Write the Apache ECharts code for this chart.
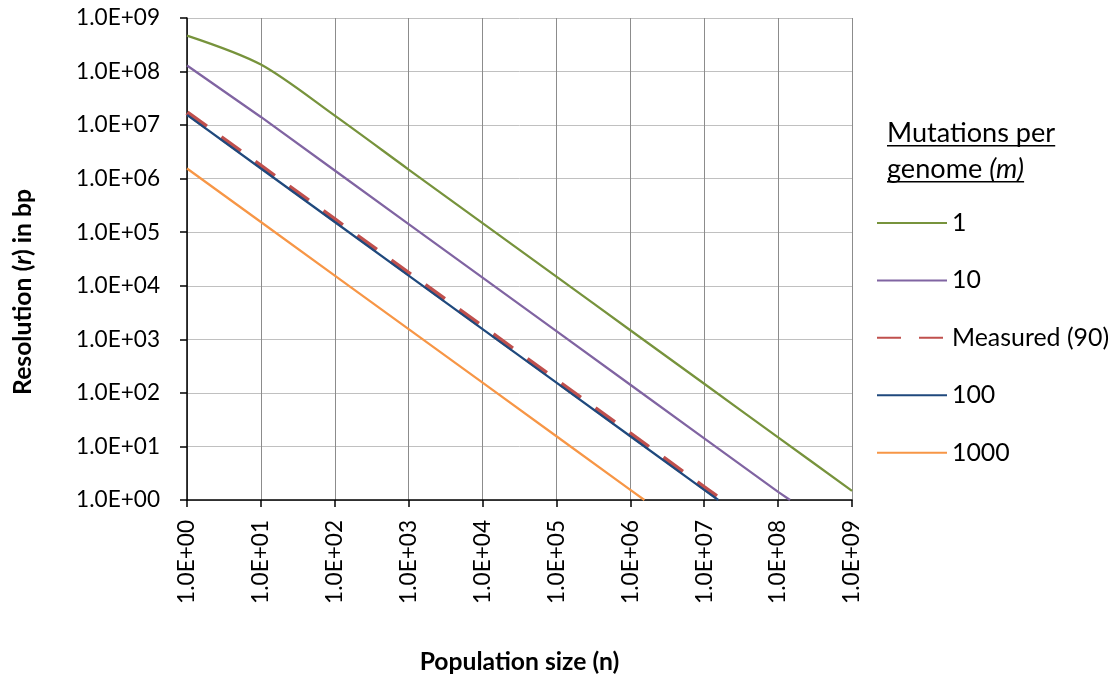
<!DOCTYPE html>
<html>
<head>
<meta charset="utf-8">
<script src="https://cdn.jsdelivr.net/npm/echarts@6/dist/echarts.min.js"></script>
<style>
  html, body { margin: 0; padding: 0; background: #ffffff; }
  #chart { width: 1119px; height: 686px; }
</style>
</head>
<body>
<div id="chart"></div>
<script>
// Resolution r (bp) against population size n, one curve per mutation load m.
const seriesNames = ['1', '10', 'Measured (90)', '100', '1000'];

const nM1 = [1, 10, 100, 1e3, 1e4, 1e5, 1e6, 1e7, 1e8, 1e9];
const rM1 = [4.7e8, 1.35e8, 1.5e7, 1.48e6, 1.48e5, 1.48e4, 1.48e3, 148, 14.8, 1.48];

const nM10 = [1, 10, 100, 1e3, 1e4, 1e5, 1e6, 1e7, 1e8, 1.45e8];
const rM10 = [1.3e8, 1.42e7, 1.42e6, 1.42e5, 1.42e4, 1.42e3, 142, 14.2, 1.42, 1];

const nMeasured = [1, 10, 100, 1e3, 1e4, 1e5, 1e6, 1e7, 1.7e7];
const rMeasured = [1.7e7, 1.7e6, 1.7e5, 1.7e4, 1.7e3, 170, 17, 1.7, 1];

const nM100 = [1, 10, 100, 1e3, 1e4, 1e5, 1e6, 1e7, 1.55e7];
const rM100 = [1.55e7, 1.55e6, 1.55e5, 1.55e4, 1.55e3, 155, 15.5, 1.55, 1];

const nM1000 = [1, 10, 100, 1e3, 1e4, 1e5, 1e6, 1.55e6];
const rM1000 = [1.55e6, 1.55e5, 1.55e4, 1.55e3, 155, 15.5, 1.55, 1];

// Axis tick labels, one per decade
const decadeLabels = ['1.0E+00', '1.0E+01', '1.0E+02', '1.0E+03', '1.0E+04',
                      '1.0E+05', '1.0E+06', '1.0E+07', '1.0E+08', '1.0E+09'];

const FONT = 'Lato, "Open Sans", sans-serif';

// Font sizes chosen so that key strings occupy a set width
const measureCtx = document.createElement('canvas').getContext('2d');
function textWidth(str, font) { measureCtx.font = font; return measureCtx.measureText(str).width; }
function sizeFor(str, targetWidth, prefix) {
  const w = textWidth(str, (prefix || '') + '100px ' + FONT);
  return Math.round(targetWidth / w * 1000) / 10;
}
const TICK_SIZE = sizeFor('1.0E+09', 84);
const LEGEND_SIZE = sizeFor('Measured (90)', 157);
const HEAD_SIZE = sizeFor('Mutations per', 168);
const TITLE_SIZE = sizeFor('Population size (n)', 200, 'bold ');

const pair = (ns, rs) => ns.map((n, i) => [n, rs[i]]);
const decadeLabel = v => decadeLabels[Math.round(Math.log10(v))] || '';

const chart = echarts.init(document.getElementById('chart'), null, { renderer: 'canvas' });

function lineSeries(name, data, color, width, extra) {
  return Object.assign({
    name: name,
    type: 'line',
    data: data,
    symbol: 'none',
    clip: true,
    lineStyle: { color: color, width: width, cap: 'butt' },
    itemStyle: { color: color },
    emphasis: { disabled: true }
  }, extra || {});
}

// Underlined legend heading
const head1 = 'Mutations per';
const head2a = 'genome ';
const head2b = '(m)';
const w1 = textWidth(head1, HEAD_SIZE + 'px ' + FONT);
const w2 = textWidth(head2a, HEAD_SIZE + 'px ' + FONT) + textWidth(head2b, 'italic ' + HEAD_SIZE + 'px ' + FONT);
const headX = 887;
const headBase1 = 141;
const headBase2 = 177;

const option = {
  animation: false,
  backgroundColor: '#ffffff',
  textStyle: { fontFamily: FONT },
  grid: { left: 187, right: 267, top: 18, bottom: 186, containLabel: false },
  xAxis: {
    type: 'log', logBase: 10, min: 1, max: 1e9,
    name: 'Population size (n)',
    nameLocation: 'middle', nameGap: 662 - TITLE_SIZE / 2 - 500,
    nameTextStyle: { fontFamily: FONT, fontWeight: 'bold', fontSize: TITLE_SIZE, color: '#000' },
    axisLine: { lineStyle: { color: '#000', width: 1.5 } },
    axisTick: { show: true, inside: false, length: 7, lineStyle: { color: '#000', width: 1.5 } },
    axisLabel: { rotate: 90, margin: 20, fontSize: TICK_SIZE, color: '#000', formatter: decadeLabel },
    splitLine: { show: true, lineStyle: { color: '#8C8C8C', width: 1 } },
    minorTick: { show: false }
  },
  yAxis: {
    type: 'log', logBase: 10, min: 1, max: 1e9,
    axisLine: { show: true, lineStyle: { color: '#000', width: 1.5 } },
    axisTick: { show: true, inside: false, length: 7, lineStyle: { color: '#000', width: 1.5 } },
    axisLabel: { margin: 27, fontSize: TICK_SIZE, color: '#000', formatter: decadeLabel },
    splitLine: { show: true, lineStyle: { color: '#C0C0C0', width: 1 } }
  },
  legend: {
    orient: 'vertical',
    left: 876, top: 223 - LEGEND_SIZE / 2, padding: 0,
    itemWidth: 70, itemHeight: LEGEND_SIZE, itemGap: 57.3 - LEGEND_SIZE,
    data: seriesNames,
    textStyle: { fontFamily: FONT, fontSize: LEGEND_SIZE, color: '#000' },
    itemStyle: { opacity: 0 },
    selectedMode: false
  },
  graphic: [
    // value-axis title, rotated to read upwards
    { type: 'text', x: 23, y: 292, rotation: Math.PI / 2, silent: true,
      style: {
        text: '{b|Resolution (}{bi|r}{b|) in bp}',
        align: 'center', verticalAlign: 'middle',
        rich: {
          b: { fontFamily: FONT, fontWeight: 'bold', fontSize: TITLE_SIZE, fill: '#000' },
          bi: { fontFamily: FONT, fontWeight: 'bold', fontStyle: 'italic', fontSize: TITLE_SIZE, fill: '#000' }
        }
      } },
    { type: 'text', left: headX, top: headBase1 - 0.8 * HEAD_SIZE, silent: true,
      style: { text: head1, font: HEAD_SIZE + 'px ' + FONT, fill: '#000' } },
    { type: 'rect', shape: { x: headX, y: headBase1 + 4, width: w1, height: 1.5 }, silent: true,
      style: { fill: '#000' } },
    { type: 'text', left: headX, top: headBase2 - 0.8 * HEAD_SIZE, silent: true,
      style: {
        text: '{n|' + head2a + '}{i|' + head2b + '}',
        rich: {
          n: { fontFamily: FONT, fontSize: HEAD_SIZE, fill: '#000' },
          i: { fontFamily: FONT, fontSize: HEAD_SIZE, fontStyle: 'italic', fill: '#000' }
        }
      } },
    { type: 'rect', shape: { x: headX, y: headBase2 + 4, width: w2, height: 1.5 }, silent: true,
      style: { fill: '#000' } }
  ],
  series: [
    lineSeries(seriesNames[0], pair(nM1, rM1), '#77933C', 2.25, { smooth: 0.3 }),
    lineSeries(seriesNames[1], pair(nM10, rM10), '#8064A2', 2.25),
    Object.assign(lineSeries(seriesNames[2], pair(nMeasured, rMeasured), '#C0504D', 5), {
      lineStyle: { color: '#C0504D', width: 5, type: [24, 18], cap: 'butt' }
    }),
    lineSeries(seriesNames[3], pair(nM100, rM100), '#1F497D', 2.25),
    lineSeries(seriesNames[4], pair(nM1000, rM1000), '#F79646', 2.25)
  ]
};

chart.setOption(option);
</script>
</body>
</html>
